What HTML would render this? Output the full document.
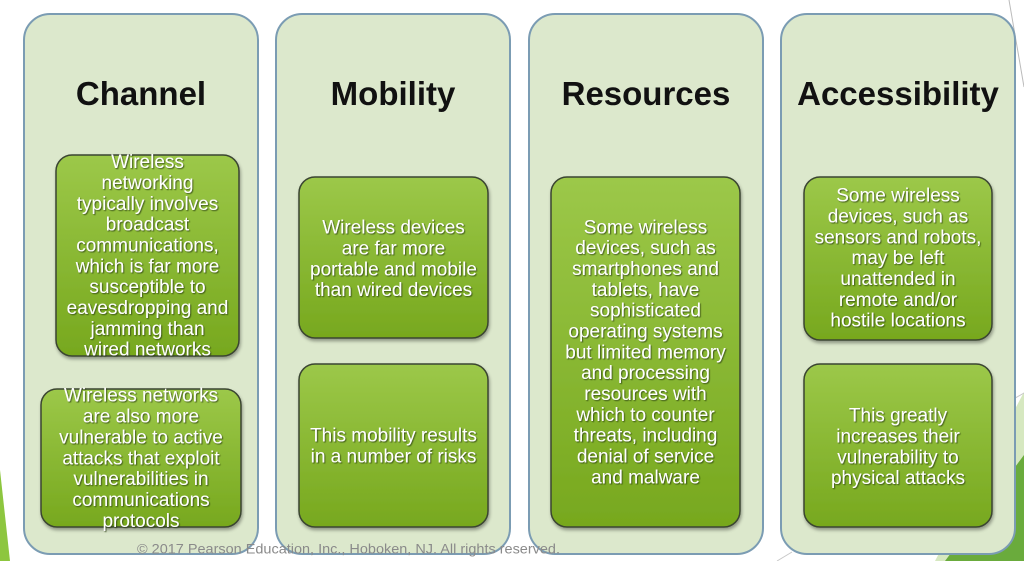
<!DOCTYPE html>
<html>
<head>
<meta charset="utf-8">
<style>
html,body{margin:0;padding:0;background:#fff;}
svg{display:block;}
.t{font-family:"Liberation Sans",Arial,sans-serif;font-weight:bold;font-size:33px;fill:#111;text-anchor:middle;}
.b{font-family:"Liberation Sans",Arial,sans-serif;font-size:19px;fill:#fff;text-anchor:middle;}
.c{font-family:"Liberation Sans",Arial,sans-serif;font-size:14px;fill:#8a8a8a;}
</style>
</head>
<body>
<svg width="1024" height="561" viewBox="0 0 1024 561" xmlns="http://www.w3.org/2000/svg">
<defs>
<linearGradient id="g" x1="0" y1="0" x2="0" y2="1">
<stop offset="0" stop-color="#9cc849"/>
<stop offset="1" stop-color="#77a81e"/>
</linearGradient>
<filter id="sh" x="-10%" y="-10%" width="125%" height="125%">
<feDropShadow dx="1" dy="2.5" stdDeviation="1.5" flood-color="#000" flood-opacity="0.35"/>
</filter>
<filter id="ts" x="-5%" y="-20%" width="110%" height="140%">
<feDropShadow dx="1" dy="1" stdDeviation="0.6" flood-color="#2a3a10" flood-opacity="0.75"/>
</filter>
</defs>

<!-- background decorations -->
<polygon points="0,470 10,561 0,561" fill="#8dc63f"/>
<line x1="1009" y1="0" x2="1024" y2="87" stroke="#bbb" stroke-width="1"/>
<polygon points="1024,392 935,561 1024,561" fill="#d6e8c0"/>
<polygon points="1024,455 945,561 1024,561" fill="#6aab3c"/>
<line x1="1024" y1="393" x2="1010" y2="401" stroke="#c8c8c8" stroke-width="1"/>
<line x1="777" y1="561" x2="792" y2="552" stroke="#c8c8c8" stroke-width="1"/>

<!-- panels -->
<rect x="24" y="14" width="234" height="540" rx="26" fill="#dce8cc" stroke="#7b9cb3" stroke-width="2"/>
<rect x="276" y="14" width="234" height="540" rx="26" fill="#dce8cc" stroke="#7b9cb3" stroke-width="2"/>
<rect x="529" y="14" width="234" height="540" rx="26" fill="#dce8cc" stroke="#7b9cb3" stroke-width="2"/>
<rect x="781" y="14" width="234" height="540" rx="26" fill="#dce8cc" stroke="#7b9cb3" stroke-width="2"/>

<!-- titles -->
<text class="t" x="141" y="105">Channel</text>
<text class="t" x="393" y="105">Mobility</text>
<text class="t" x="646" y="105">Resources</text>
<text class="t" x="898" y="105">Accessibility</text>

<!-- inner boxes -->
<g filter="url(#sh)" stroke="#3a4530" stroke-width="1.5" fill="url(#g)">
<rect x="56" y="155" width="183" height="201" rx="16"/>
<rect x="41" y="389" width="200" height="138" rx="16"/>
<rect x="299" y="177" width="189" height="161" rx="16"/>
<rect x="299" y="364" width="189" height="163" rx="16"/>
<rect x="551" y="177" width="189" height="350" rx="16"/>
<rect x="804" y="177" width="188" height="163" rx="16"/>
<rect x="804" y="364" width="188" height="163" rx="16"/>
</g>

<g filter="url(#ts)">
<!-- Channel box 1 -->
<text class="b" x="147.5" y="168">Wireless</text>
<text class="b" x="147.5" y="189">networking</text>
<text class="b" x="147.5" y="210">typically involves</text>
<text class="b" x="147.5" y="230.5">broadcast</text>
<text class="b" x="147.5" y="251.5">communications,</text>
<text class="b" x="147.5" y="272.5">which is far more</text>
<text class="b" x="147.5" y="293">susceptible to</text>
<text class="b" x="147.5" y="314">eavesdropping and</text>
<text class="b" x="147.5" y="335">jamming than</text>
<text class="b" x="147.5" y="355.5">wired networks</text>

<!-- Channel box 2 -->
<text class="b" x="141" y="401.5">Wireless networks</text>
<text class="b" x="141" y="422.5">are also more</text>
<text class="b" x="141" y="443.5">vulnerable to active</text>
<text class="b" x="141" y="464.5">attacks that exploit</text>
<text class="b" x="141" y="485">vulnerabilities in</text>
<text class="b" x="141" y="506">communications</text>
<text class="b" x="141" y="527">protocols</text>

<!-- Mobility -->
<text class="b" x="393.5" y="233.5">Wireless devices</text>
<text class="b" x="393.5" y="254.5">are far more</text>
<text class="b" x="393.5" y="275.5">portable and mobile</text>
<text class="b" x="393.5" y="296">than wired devices</text>

<text class="b" x="393.5" y="441.5">This mobility results</text>
<text class="b" x="393.5" y="462.5">in a number of risks</text>

<!-- Resources -->
<text class="b" x="645.5" y="233.5">Some wireless</text>
<text class="b" x="645.5" y="254">devices, such as</text>
<text class="b" x="645.5" y="275">smartphones and</text>
<text class="b" x="645.5" y="296">tablets, have</text>
<text class="b" x="645.5" y="316.5">sophisticated</text>
<text class="b" x="645.5" y="337.5">operating systems</text>
<text class="b" x="645.5" y="358.5">but limited memory</text>
<text class="b" x="645.5" y="379">and processing</text>
<text class="b" x="645.5" y="400">resources with</text>
<text class="b" x="645.5" y="421">which to counter</text>
<text class="b" x="645.5" y="441.5">threats, including</text>
<text class="b" x="645.5" y="462.5">denial of service</text>
<text class="b" x="645.5" y="483.5">and malware</text>

<!-- Accessibility -->
<text class="b" x="898" y="201.5">Some wireless</text>
<text class="b" x="898" y="222.5">devices, such as</text>
<text class="b" x="898" y="243.5">sensors and robots,</text>
<text class="b" x="898" y="264">may be left</text>
<text class="b" x="898" y="285">unattended in</text>
<text class="b" x="898" y="306">remote and/or</text>
<text class="b" x="898" y="326.5">hostile locations</text>

<text class="b" x="898" y="421.5">This greatly</text>
<text class="b" x="898" y="442.5">increases their</text>
<text class="b" x="898" y="463.5">vulnerability to</text>
<text class="b" x="898" y="484">physical attacks</text>
</g>

<!-- copyright -->
<text class="c" x="137" y="553.5" textLength="423" lengthAdjust="spacingAndGlyphs">© 2017 Pearson Education, Inc., Hoboken, NJ. All rights reserved.</text>
</svg>
</body>
</html>
